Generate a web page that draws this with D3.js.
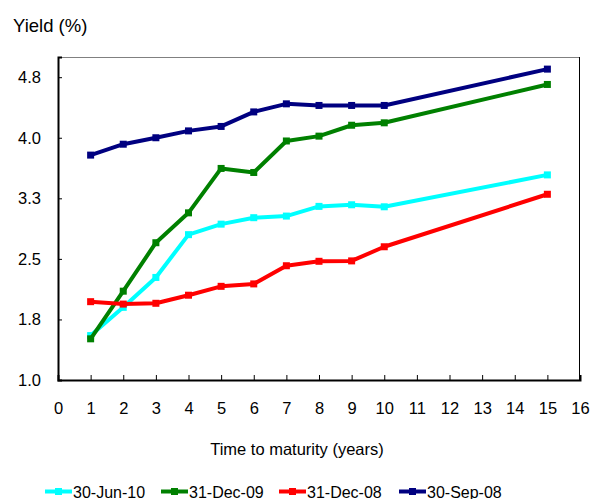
<!DOCTYPE html>
<html><head><meta charset="utf-8">
<script src="https://cdn.jsdelivr.net/npm/d3@7"></script>
<style>body{margin:0;background:#fff}svg{display:block;font-family:"Liberation Sans",Arial,sans-serif}</style>
</head><body><svg id="c" width="592" height="499"></svg>
<script>
const maturities = [1,2,3,4,5,6,7,8,9,10,15];
const seriesNames = ["30-Jun-10","31-Dec-09","31-Dec-08","30-Sep-08"];
const seriesColors = ["#00FFFF","#008000","#FF0000","#000080"];
const jun10 = [1.55,1.90,2.27,2.80,2.93,3.01,3.03,3.15,3.17,3.145,3.54];
const dec09 = [1.51,2.10,2.70,3.07,3.62,3.57,3.96,4.02,4.155,4.185,4.66];
const dec08 = [1.97,1.94,1.95,2.05,2.16,2.19,2.415,2.47,2.475,2.65,3.30];
const sep08 = [3.785,3.92,4.00,4.085,4.14,4.32,4.42,4.40,4.40,4.40,4.85];
const yTicks = [1.0,1.75,2.5,3.25,4.0,4.75];
const xTicks = d3.range(0,17);
const yTitle = "Yield (%)";
const xTitle = "Time to maturity (years)";

const seriesData = [jun10, dec09, dec08, sep08];
const svg = d3.select("#c");
const L=58,R=580,T=57,B=380;
const x = d3.scaleLinear().domain([0,16]).range([L,R]);
const y = d3.scaleLinear().domain([1.0,5.0]).range([B,T]);
const FF = "Liberation Sans, Arial, sans-serif";

// frame
svg.append("line").attr("x1",L).attr("x2",R).attr("y1",T+0.5).attr("y2",T+0.5).attr("stroke","#808080").attr("stroke-width",1);
svg.append("line").attr("x1",R-0.5).attr("x2",R-0.5).attr("y1",T).attr("y2",B).attr("stroke","#000").attr("stroke-width",1);

// axes
const yAxis = d3.axisLeft(y).tickValues(yTicks).tickSize(-4).tickPadding(17).tickFormat(d3.format(".1f"));
const gy = svg.append("g").attr("transform",`translate(${L},0)`).call(yAxis);
gy.select(".domain").attr("stroke","#000").attr("stroke-width",2);
gy.selectAll("text").attr("font-size",16.5).attr("fill","#000").attr("font-family",FF);
gy.selectAll(".tick line").attr("stroke","#000");

const xAxis = d3.axisBottom(x).tickValues(xTicks).tickSize(-5).tickPadding(22).tickFormat(d3.format("d"));
const gx = svg.append("g").attr("transform",`translate(0,${B})`).call(xAxis);
gx.select(".domain").attr("stroke","#000").attr("stroke-width",2);
gx.selectAll("text").attr("font-size",16.5).attr("fill","#000").attr("font-family",FF);
gx.selectAll(".tick line").attr("stroke","#000");

// lines
const line = d3.line().x((d,i)=>x(maturities[i])).y(d=>y(d));
seriesData.forEach((vals,k)=>{
  const g = svg.append("g");
  g.append("path").datum(vals).attr("d",line).attr("fill","none")
   .attr("stroke",seriesColors[k]).attr("stroke-width",4).attr("stroke-linejoin","round");
  g.selectAll("rect").data(vals).enter().append("rect")
   .attr("x",(d,i)=>x(maturities[i])-3.5).attr("y",d=>y(d)-3.5)
   .attr("width",7).attr("height",7).attr("fill",seriesColors[k]);
});

// titles
svg.append("text").attr("x",13).attr("y",32).attr("font-size",18.5).text(yTitle);
svg.append("text").attr("x",297).attr("y",455).attr("text-anchor","middle").attr("font-size",16.5).text(xTitle);

// legend
const legX = [45,161,279,399];
seriesNames.forEach((n,k)=>{
  const g = svg.append("g").attr("transform",`translate(${legX[k]},491.5)`);
  g.append("line").attr("x1",0).attr("x2",27).attr("y1",0).attr("y2",0).attr("stroke",seriesColors[k]).attr("stroke-width",4);
  g.append("rect").attr("x",10).attr("y",-3.5).attr("width",7).attr("height",7).attr("fill",seriesColors[k]);
  g.append("text").attr("x",28).attr("y",6).attr("font-size",16).text(n);
});
</script></body></html>
